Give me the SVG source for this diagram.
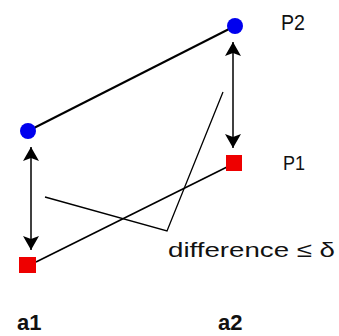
<svg xmlns="http://www.w3.org/2000/svg" width="339" height="336" viewBox="0 0 339 336">
  <style>
    .ln { stroke: #000; fill: none; }
    .lbl { font-family: "Liberation Sans", Arial, sans-serif; fill: #111; }
    .blue { fill: #0000ee; }
    .red { fill: #ee0000; }
  </style>
  <defs>
    <marker id="ah" viewBox="0 0 14 16" refX="14" refY="8" markerWidth="14" markerHeight="16" markerUnits="userSpaceOnUse" orient="auto-start-reverse">
      <path d="M0,0 L14,8 L0,16 L3,8 Z" fill="#000"/>
    </marker>
  </defs>
  <rect width="339" height="336" fill="#fff"/>
  <g id="connectors">
    <line class="ln" x1="28" y1="131" x2="235" y2="26" stroke-width="2"/>
    <line class="ln" x1="36" y1="262" x2="227" y2="167" stroke-width="1.6"/>
    <line class="ln" x1="233" y1="42" x2="233" y2="148" stroke-width="1.5" marker-start="url(#ah)" marker-end="url(#ah)"/>
    <line class="ln" x1="31" y1="147" x2="31" y2="250" stroke-width="1.5" marker-start="url(#ah)" marker-end="url(#ah)"/>
    <polyline class="ln" points="45,197 167,231 223,92" stroke-width="1.3"/>
  </g>
  <g id="p2-a1">
    <circle class="blue" cx="28" cy="131" r="8"/>
  </g>
  <g id="p2-a2">
    <circle class="blue" cx="235" cy="26" r="8"/>
  </g>
  <g id="p1-a1">
    <rect class="red" x="19" y="257" width="17" height="16"/>
  </g>
  <g id="p1-a2">
    <rect class="red" x="226" y="155" width="16" height="16"/>
  </g>
  <g id="labels">
    <text class="lbl" x="281" y="30" font-size="22" textLength="24" lengthAdjust="spacingAndGlyphs">P2</text>
    <text class="lbl" x="283" y="170" font-size="21" textLength="22" lengthAdjust="spacingAndGlyphs">P1</text>
    <text class="lbl" x="168" y="257" font-size="21" textLength="167" lengthAdjust="spacingAndGlyphs">difference ≤ δ</text>
    <text class="lbl" x="17" y="330" font-size="22" font-weight="bold">a1</text>
    <text class="lbl" x="218" y="330" font-size="22" font-weight="bold">a2</text>
  </g>
</svg>
